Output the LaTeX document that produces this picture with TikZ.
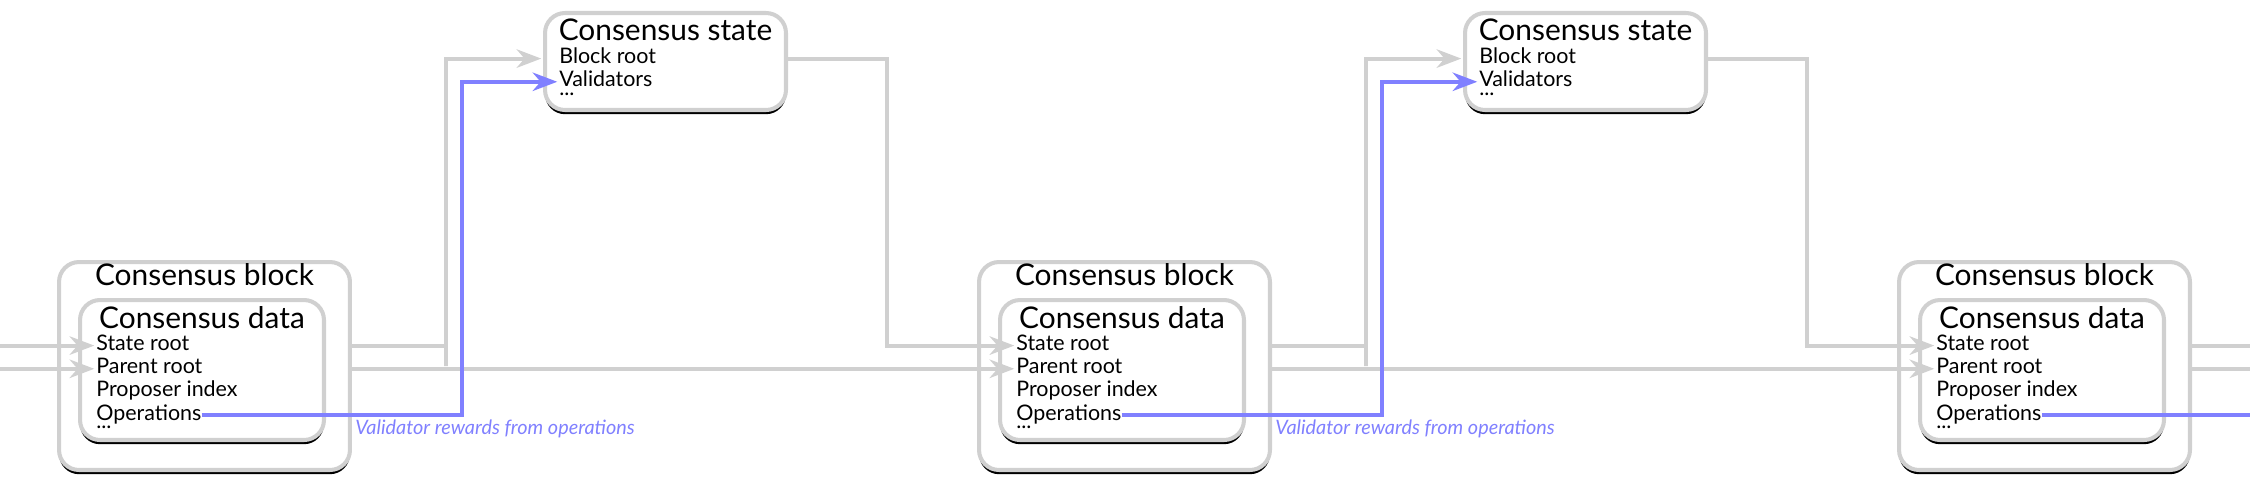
\documentclass[tikz,border=0pt]{standalone}
\usepackage{fontspec}
\setmainfont{Lato}
\usetikzlibrary{positioning, calc, arrows.meta, shadows}
\definecolor{clrLine}{RGB}{208,208,208}
\definecolor{clrReward}{RGB}{128,128,255}

\begin{document}
\begin{tikzpicture}[
  x=0.02cm, y=-0.02cm,
  box/.style={rectangle, rounded corners=0.4cm, draw=clrLine, line width=2.3pt,
              fill=white, drop shadow={opacity=1, fill=black,
              shadow xshift=0pt, shadow yshift=-2.4pt}},
  blockbox/.style={box, minimum width=5.82cm, minimum height=4.16cm},
  databox/.style={box, minimum width=4.88cm, minimum height=2.8cm},
  statebox/.style={box, minimum width=4.82cm, minimum height=1.94cm},
  ttl/.style={font=\fontsize{17}{20}\selectfont, inner sep=0pt,
              text height=11.5pt, text depth=3.5pt},
  item/.style={font=\fontsize{12.2}{12.8}\selectfont, inner sep=0pt,
               text height=9.2pt, text depth=3.6pt},
  more/.style={item, text height=1pt, text depth=0pt},
  note/.style={item, font=\fontsize{11.3}{12.8}\selectfont\itshape, text=clrReward},
  link/.style={draw=clrLine, line width=2.2pt},
  conn/.style={link, -{Stealth[length=14pt, width=10.5pt, inset=4.5pt]}, shorten >=1pt},
  rwd/.style={draw=clrReward, line width=2pt},
  rwdarr/.style={rwd, -{Stealth[length=14pt, width=10.5pt, inset=4.5pt]}, shorten >=1pt}
]
\useasboundingbox (0,0) rectangle (2250,478);
\coordinate (lft) at (0,0);
\coordinate (rgt) at (2250,0);

% block 1
\node[blockbox] (blk1) at (204.5,366) {};
\node[ttl, below=0.1cm of blk1.north] (bt1) {Consensus block};
\node[databox] (dat1) at (202,370) {};
\node[ttl, below=0.2cm of dat1.north] (dt1) {Consensus data};
\node[item, below right=0.72cm and 0.36cm of dat1.north west] (sr1) {State root};
\node[item, below=0pt of sr1.south west, anchor=north west] (pr1) {Parent root};
\node[item, below=0pt of pr1.south west, anchor=north west] (pi1) {Proposer index};
\node[item, below=0pt of pi1.south west, anchor=north west] (op1) {Operations};
\node[more, below=0pt of op1.south west, anchor=north west] (om1) {...};
\node[note, below right=1.04cm and 0.06cm of blk1.east] (rw1)
     {Validator rewards from operations};

% state 1
\node[statebox] (st1) at (665.5,61.5) {};
\node[ttl, below=0.18cm of st1.north] (stt1) {Consensus state};
\node[item, below right=0.72cm and 0.32cm of st1.north west] (br1) {Block root};
\node[item, below=0pt of br1.south west, anchor=north west] (val1) {Validators};
\node[more, below=0pt of val1.south west, anchor=north west] (vm1) {...};

% block 2
\node[blockbox] (blk2) at (1124.5,366) {};
\node[ttl, below=0.1cm of blk2.north] (bt2) {Consensus block};
\node[databox] (dat2) at (1122,370) {};
\node[ttl, below=0.2cm of dat2.north] (dt2) {Consensus data};
\node[item, below right=0.72cm and 0.36cm of dat2.north west] (sr2) {State root};
\node[item, below=0pt of sr2.south west, anchor=north west] (pr2) {Parent root};
\node[item, below=0pt of pr2.south west, anchor=north west] (pi2) {Proposer index};
\node[item, below=0pt of pi2.south west, anchor=north west] (op2) {Operations};
\node[more, below=0pt of op2.south west, anchor=north west] (om2) {...};
\node[note, below right=1.04cm and 0.06cm of blk2.east] (rw2)
     {Validator rewards from operations};

% state 2
\node[statebox] (st2) at (1585.5,61.5) {};
\node[ttl, below=0.18cm of st2.north] (stt2) {Consensus state};
\node[item, below right=0.72cm and 0.32cm of st2.north west] (br2) {Block root};
\node[item, below=0pt of br2.south west, anchor=north west] (val2) {Validators};
\node[more, below=0pt of val2.south west, anchor=north west] (vm2) {...};

% block 3
\node[blockbox] (blk3) at (2044.5,366) {};
\node[ttl, below=0.1cm of blk3.north] (bt3) {Consensus block};
\node[databox] (dat3) at (2042,370) {};
\node[ttl, below=0.2cm of dat3.north] (dt3) {Consensus data};
\node[item, below right=0.72cm and 0.36cm of dat3.north west] (sr3) {State root};
\node[item, below=0pt of sr3.south west, anchor=north west] (pr3) {Parent root};
\node[item, below=0pt of pr3.south west, anchor=north west] (pi3) {Proposer index};
\node[item, below=0pt of pi3.south west, anchor=north west] (op3) {Operations};
\node[more, below=0pt of op3.south west, anchor=north west] (om3) {...};

% chain links
\draw[conn] (sr1.west -| lft) -- (sr1.west);
\draw[conn] (pr1.west -| lft) -- (pr1.west);
\draw[conn] (sr1.west -| blk1.east) -| ([xshift=1.88cm]blk1.east)
            |- (br1.west -| st1.west);
\draw[conn] (br1.west -| st1.east) -| ([xshift=1.98cm]st1.east) |- (sr2.west);
\draw[conn] (pr1.west -| blk1.east) -- (pr2.west);
\draw[conn] (sr2.west -| blk2.east) -| ([xshift=1.88cm]blk2.east)
            |- (br2.west -| st2.west);
\draw[conn] (br2.west -| st2.east) -| ([xshift=1.98cm]st2.east) |- (sr3.west);
\draw[conn] (pr2.west -| blk2.east) -- (pr3.west);
\draw[link] (sr3.west -| blk3.east) -- (sr3.west -| rgt);
\draw[link] (pr3.west -| blk3.east) -- (pr3.west -| rgt);

% rewards
\draw[rwdarr] (op1.east) -| ([xshift=2.2cm]blk1.east) |- (val1.west);
\draw[rwdarr] (op2.east) -| ([xshift=2.2cm]blk2.east) |- (val2.west);
\draw[rwd] (op3.east) -- (op3.east -| rgt);

\end{tikzpicture}
\end{document}
